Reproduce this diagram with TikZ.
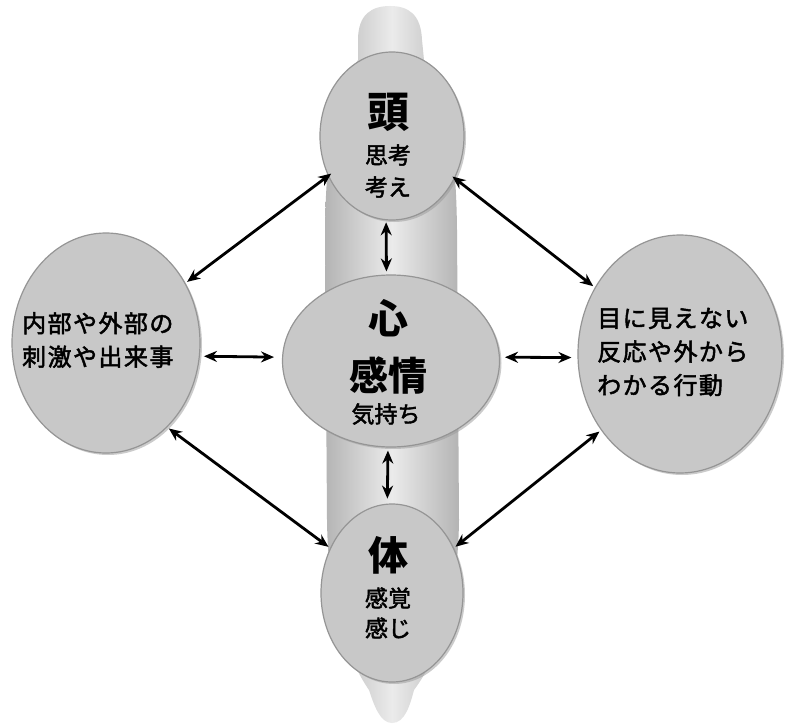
\documentclass[tikz,border=0pt]{standalone}
\usepackage{fontspec}
\setmainfont{Noto Sans CJK JP}
\newfontfamily\jpmed{Noto Sans CJK JP}[FakeBold=2]
\newfontfamily\jpls{Noto Sans CJK JP}[LetterSpace=6,FakeBold=2]
\usetikzlibrary{shapes.geometric,arrows.meta,shadows}
\definecolor{blobfill}{HTML}{C8C8C8}
\definecolor{blobline}{HTML}{959595}
\definecolor{bandedge}{HTML}{B4B4B4}
\definecolor{bandmid}{HTML}{EBEBEB}
\begin{document}
\begin{tikzpicture}[x=1pt,y=-1pt,
  blob/.style={ellipse, inner sep=0pt, fill=blobfill, draw=blobline, line width=1.2pt,
    drop shadow={shadow xshift=2pt,shadow yshift=-2pt,fill=gray!80,opacity=0.5}},
  arr/.style={{Stealth[length=13pt,width=11pt]}-{Stealth[length=13pt,width=11pt]}, line width=2.8pt, black},
  big/.style={inner sep=0pt, font=\fontsize{40}{40}\selectfont\bfseries},
  mid/.style={inner sep=0pt, font=\jpmed\fontsize{23}{23}\selectfont},
  side/.style={inner sep=0pt, align=left, anchor=west, font=\jpls\fontsize{24}{33.5}\selectfont}]
\useasboundingbox (0,0) rectangle (787,725);
\fill[white] (0,0) rectangle (787,725);
% background spindle band
\path[left color=bandedge, right color=bandedge, middle color=bandmid]
  (358,40) .. controls (358,14) and (372,6) .. (390,6)
  .. controls (408,6) and (421,14) .. (422,40)
  -- (424,60) .. controls (445,90) and (456,140) .. (457,230)
  -- (459,520)
  .. controls (458,600) and (440,655) .. (414,690)
  .. controls (410,705) and (405,723) .. (392,723)
  .. controls (380,723) and (374,705) .. (369,690)
  .. controls (345,655) and (328,600) .. (327,520)
  -- (325,230) .. controls (326,140) and (338,90) .. (358,60) -- cycle;
% ellipses
\node[blob, minimum width=144pt, minimum height=168pt] (T) at (392,136) {};
\node[blob, minimum width=217pt, minimum height=172pt] (M) at (391,361) {};
\node[blob, minimum width=142pt, minimum height=178pt] (B) at (392,593) {};
\node[blob, minimum width=188pt, minimum height=220pt] (L) at (106,343) {};
\node[blob, minimum width=204pt, minimum height=238pt] (R) at (680,354) {};
% texts
\node[big, font=\fontsize{42}{42}\selectfont\bfseries] (t1) at (388,112) {頭};
\node[mid] (t2) at (388,155) {思考};
\node[mid] (t3) at (388,187) {考え};
\node[big] (m1) at (388,318) {心};
\node[big, font=\fontsize{39}{39}\selectfont\bfseries] (m2) at (388,375) {感情};
\node[mid] (m3) at (386,414) {気持ち};
\node[big] (b1) at (388,555) {体};
\node[mid] (b2) at (388,598) {感覚};
\node[mid] (b3) at (388,628) {感じ};
\node[side] (lt) at (22,340) {内部や外部の\\刺激や出来事};
\node[side] (rt) at (597,352) {目に見えない\\反応や外から\\わかる行動};
% connectors
\draw[arr, shorten <=2pt, shorten >=-4pt] (L.37) -- (T.212);
\draw[arr, shorten <=-3pt, shorten >=2pt] (T.-34) -- (R.142);
\draw[arr, shorten <=4pt, shorten >=8pt] (L.-8.6) -- (M.178);
\draw[arr, shorten <=5pt, shorten >=6pt] (M.2) -- (R.182);
\draw[arr, shorten <=2pt, shorten >=3pt] (T.266) -- (M.93);
\draw[arr, shorten <=3pt, shorten >=5pt] (M.268) -- (B.93);
\draw[arr, shorten <=2pt, shorten >=2pt] (L.-54) -- (B.144);
\draw[arr, shorten <=2pt, shorten >=2pt] (B.36) -- (R.224);
\end{tikzpicture}
\end{document}
